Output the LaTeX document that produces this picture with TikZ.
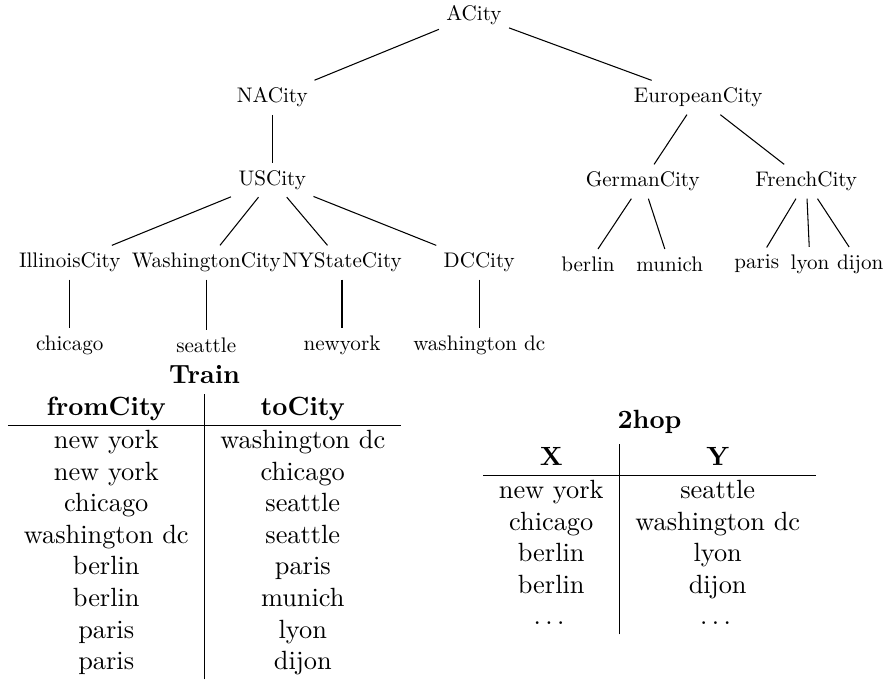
\documentclass[tikz,border=0pt]{standalone}
\usepackage{amsmath}
\usepackage{fontspec}
\usepackage{tikz}
\usetikzlibrary{positioning}
\newfontfamily\treefont{lmroman10-regular}[Extension=.otf,Scale=0.8]
\tikzset{%
	city/.style     = {font=\treefont, inner sep=2.67pt}, % tree node
	relation/.style = {inner sep=0pt}, % table
	caption/.style  = {font=\bfseries}, % table title
}

\begin{document}
\begin{tikzpicture}[node distance=1.1cm]
	\useasboundingbox (0,0) rectangle (11.8,-9.08);
	% tree
	\node [city] (acity) at (6.32,-0.2) {ACity};
	\node [city] (nacity) [below of=acity,xshift=-2.69cm] {NACity};
	\node [city] (eucity) [below of=acity,xshift=2.99cm] {EuropeanCity};
	\node [city] (uscity) [below of=nacity] {USCity};
	\node [city] (decity) [below of=eucity,xshift=-0.74cm,yshift=-0.02cm] {GermanCity};
	\node [city] (frcity) [below of=eucity,xshift=1.44cm,yshift=-0.02cm] {FrenchCity};
	\node [city] (ilcity) [below of=uscity,xshift=-2.7cm] {IllinoisCity};
	\node [city] (wacity) [below of=uscity,xshift=-0.88cm] {WashingtonCity};
	\node [city] (nycity) [below of=uscity,xshift=0.93cm] {NYStateCity};
	\node [city] (dccity) [below of=uscity,xshift=2.76cm] {DCCity};
	\node [city] (chicago) [below of=ilcity] {chicago};
	\node [city] (seattle) [below of=wacity] {seattle};
	\node [city] (newyork) [below of=nycity] {newyork};
	\node [city] (washdc) [below of=dccity] {washington dc};
	\node [city] (berlin) [below of=decity,xshift=-0.73cm] {berlin};
	\node [city] (munich) [below of=decity,xshift=0.36cm] {munich};
	\node [city] (paris) [below of=frcity,xshift=-0.66cm] {paris};
	\node [city] (lyon) [below of=frcity,xshift=0.05cm] {lyon};
	\node [city] (dijon) [below of=frcity,xshift=0.72cm] {dijon};

	\draw (acity) -- (nacity);
	\draw (acity) -- (eucity);
	\draw (nacity) -- (uscity);
	\draw (uscity) -- (ilcity);
	\draw (uscity) -- (wacity);
	\draw (uscity) -- (nycity);
	\draw (uscity) -- (dccity);
	\draw (ilcity) -- (chicago);
	\draw (wacity) -- (seattle);
	\draw (nycity) -- (newyork);
	\draw (dccity) -- (washdc);
	\draw (eucity) -- (decity);
	\draw (eucity) -- (frcity);
	\draw (decity) -- (berlin);
	\draw (decity) -- (munich);
	\draw (frcity) -- (paris);
	\draw (frcity) -- (lyon);
	\draw (frcity) -- (dijon);

	% tables
	\node [relation] (train) at (2.727,-7.153) {%
		\begin{tabular}{c|c}
			\textbf{fromCity} & \textbf{toCity}\\ \hline
			new york & washington dc\\
			new york & chicago\\
			chicago & seattle\\
			washington dc & seattle\\
			berlin & paris\\
			berlin & munich\\
			paris & lyon\\
			paris & dijon
		\end{tabular}};
	\node [caption,above=0pt of train] (traintitle) {Train};

	\node [relation] (twohop) at (8.66,-7.187) {%
		\begin{tabular}{c|c}
			\textbf{X} & \textbf{Y}\\ \hline
			new york & seattle\\
			chicago & washington dc\\
			berlin & lyon\\
			berlin & dijon\\
			$\dots$ & $\dots$
		\end{tabular}};
	\node [caption,above=0pt of twohop] (twohoptitle) {2hop};
\end{tikzpicture}
\end{document}
